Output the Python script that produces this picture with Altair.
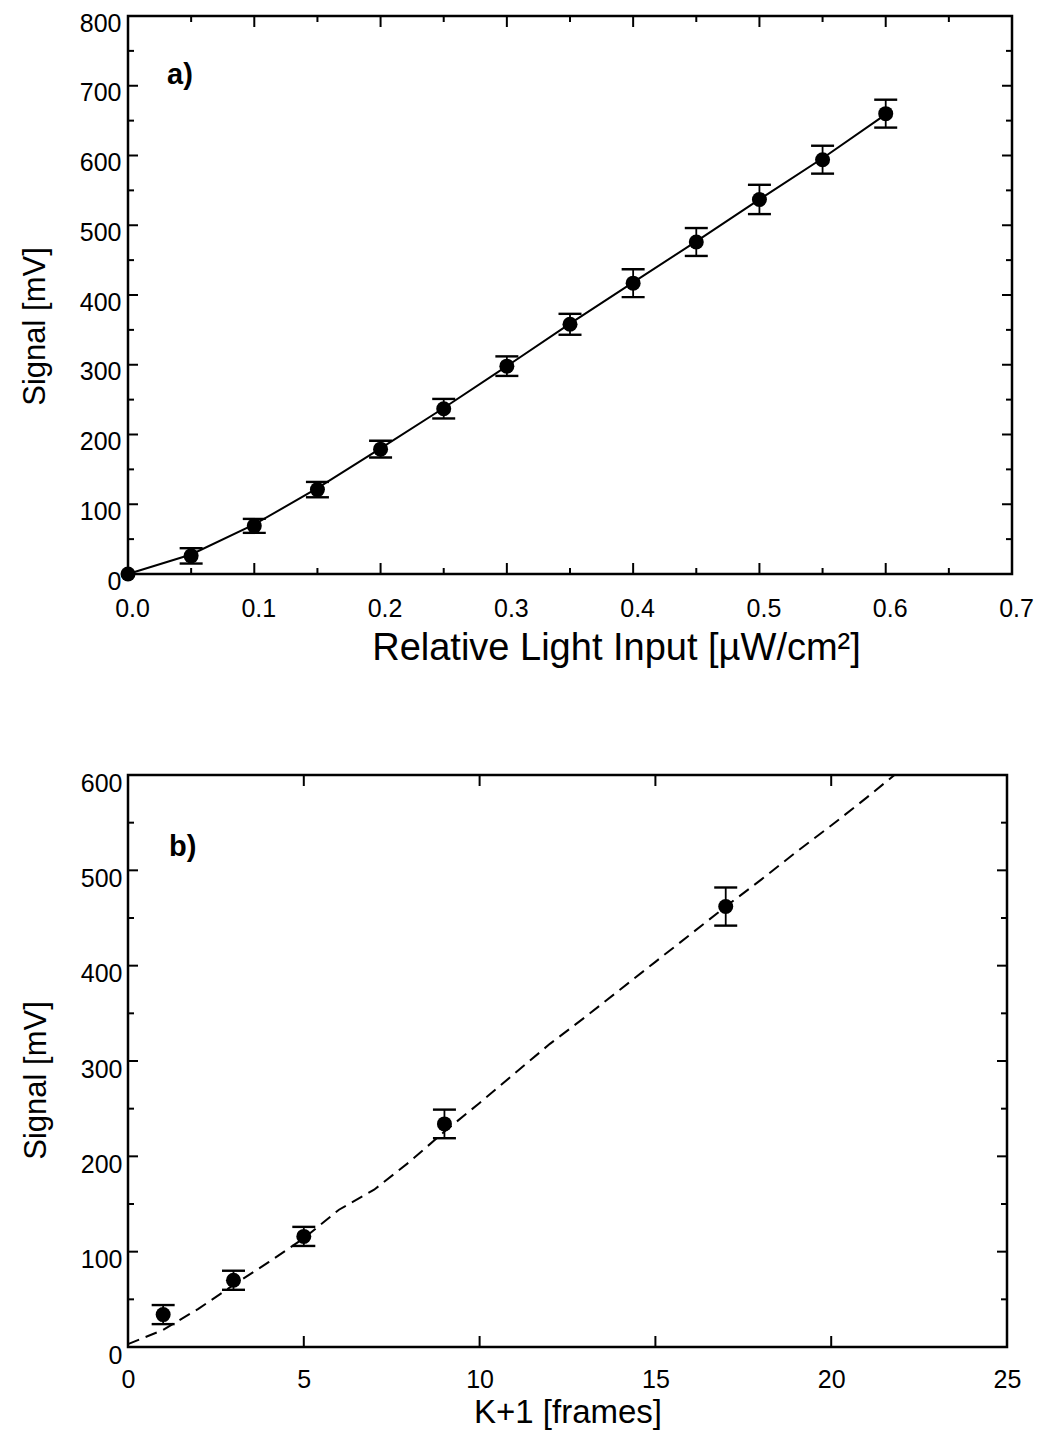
import altair as alt
import pandas as pd

# ---------------- Panel a data ----------------
a_x = [0.0, 0.05, 0.10, 0.15, 0.20, 0.25, 0.30, 0.35, 0.40, 0.45, 0.50, 0.55, 0.60]
a_y = [0, 26, 69, 121, 179, 237, 298, 358, 417, 476, 537, 594, 660]
a_err = [0, 11, 10, 11, 12, 14, 14, 15, 20, 20, 21, 20, 20]
a_fit = [0, 28, 71, 123, 180, 238, 298, 359, 418, 477, 537, 596, 659]

# ---------------- Panel b data ----------------
b_x = [1, 3, 5, 9, 17]
b_y = [34, 70, 116, 234, 462]
b_err = [10, 10, 10, 15, 20]
b_fit_x = [0, 1, 2, 3, 4, 5, 6, 7, 8, 9, 10, 11, 12, 13, 14, 15, 16, 17, 18, 19, 20, 21, 21.8]
b_fit_y = [3, 18, 40, 65, 89, 114, 144, 165, 194, 226, 256, 287, 318, 346, 375, 404, 433, 462, 490, 519, 547, 576, 600]

# ---------------- Tick values ----------------
a_xticks_major = [0.0, 0.1, 0.2, 0.3, 0.4, 0.5, 0.6, 0.7]
a_xticks_minor = [0.05, 0.15, 0.25, 0.35, 0.45, 0.55, 0.65]
a_yticks_major = [0, 100, 200, 300, 400, 500, 600, 700, 800]
a_yticks_minor = [50, 150, 250, 350, 450, 550, 650, 750]
b_xticks_major = [0, 5, 10, 15, 20, 25]
b_xticks_minor = []
b_yticks_major = [0, 100, 200, 300, 400, 500, 600]
b_yticks_minor = [50, 150, 250, 350, 450, 550]

FONT = "Liberation Sans"


def panel(px, py, perr, fx, fy, xdom, ydom, xmaj, xmin, ymaj, ymin, W, H,
          xtitle, ytitle, tag, tag_x, tag_y, xfmt, dash, xtitle_size,
          x_label_offset, y_label_offset, y_title_y, x_title_x,
          x_label_pad, x_title_pad, y_label_pad, y_title_pad):
    pts = pd.DataFrame({"x": px, "y": py, "err": perr})
    fit = pd.DataFrame({"x": fx, "y": fy})

    xscale = alt.Scale(domain=xdom, nice=False, zero=False)
    yscale = alt.Scale(domain=ydom, nice=False, zero=False)

    xaxis_kwargs = dict(values=xmaj, format=xfmt, ticks=False, tickSize=0, domain=False,
                        grid=False, labelFont=FONT, labelFontSize=25,
                        labelColor="black", labelPadding=x_label_pad,
                        labelOffset=x_label_offset, labelFlush=False,
                        title=xtitle, titleFont=FONT, titleFontSize=xtitle_size,
                        titleFontWeight="normal", titleColor="black",
                        titlePadding=x_title_pad)
    if x_title_x is not None:
        xaxis_kwargs["titleX"] = x_title_x
    xaxis = alt.Axis(**xaxis_kwargs)
    yaxis = alt.Axis(values=ymaj, format="d", ticks=False, tickSize=0, domain=False,
                     grid=False, labelFont=FONT, labelFontSize=25,
                     labelColor="black", labelPadding=y_label_pad,
                     labelOffset=y_label_offset, labelFlush=False,
                     title=ytitle, titleFont=FONT, titleFontSize=31,
                     titleFontWeight="normal", titleColor="black",
                     titlePadding=y_title_pad, titleY=y_title_y)

    def X(field):
        return alt.X(field, scale=xscale, axis=xaxis)

    def Y(field):
        return alt.Y(field, scale=yscale, axis=yaxis)

    base_pts = alt.Chart(pts)

    points = base_pts.mark_circle(size=225, color="black", opacity=1).encode(
        x=X("x:Q"), y=Y("y:Q"),
    )

    fit_line = alt.Chart(fit).mark_line(
        color="black", strokeWidth=2, **({"strokeDash": [12, 7]} if dash else {})
    ).encode(x=X("x:Q"), y=Y("y:Q"))

    err_base = base_pts.transform_filter("datum.err > 0").transform_calculate(
        lo="datum.y - datum.err", hi="datum.y + datum.err"
    )
    err_rule = err_base.mark_rule(color="black", strokeWidth=1.8).encode(
        x=X("x:Q"), y=Y("lo:Q"), y2="hi:Q",
    )
    caps = err_base.transform_fold(["lo", "hi"], as_=["k", "v"]).mark_tick(
        orient="horizontal", size=23, thickness=2.4, color="black", opacity=1
    ).encode(x=X("x:Q"), y=Y("v:Q"))

    layers = [fit_line, err_rule, caps, points]

    def xticks(vals, L):
        if not vals:
            return []
        d = pd.DataFrame({"x": vals})
        bot = alt.Chart(d).mark_rule(color="black", strokeWidth=2).encode(
            x=X("x:Q"), y=alt.value(H), y2=alt.value(H - L))
        top = alt.Chart(d).mark_rule(color="black", strokeWidth=2).encode(
            x=X("x:Q"), y=alt.value(0), y2=alt.value(L))
        return [bot, top]

    def yticks(vals, L):
        if not vals:
            return []
        d = pd.DataFrame({"y": vals})
        left = alt.Chart(d).mark_rule(color="black", strokeWidth=2).encode(
            y=Y("y:Q"), x=alt.value(0), x2=alt.value(L))
        right = alt.Chart(d).mark_rule(color="black", strokeWidth=2).encode(
            y=Y("y:Q"), x=alt.value(W - L), x2=alt.value(W))
        return [left, right]

    layers += xticks(xmaj, 11) + xticks(xmin, 6) + yticks(ymaj, 10) + yticks(ymin, 6)

    tag_df = pd.DataFrame({"t": [tag]})
    tag_text = alt.Chart(tag_df).mark_text(
        font=FONT, fontSize=29, fontWeight="bold", align="left",
        baseline="alphabetic", color="black"
    ).encode(text="t:N", x=alt.value(tag_x), y=alt.value(tag_y))
    layers.append(tag_text)

    return alt.layer(*layers).properties(width=W, height=H)


panel_a = panel(a_x, a_y, a_err, a_x, a_fit, [0, 0.7], [0, 800],
                a_xticks_major, a_xticks_minor, a_yticks_major, a_yticks_minor,
                884, 558, "Relative Light Input [µW/cm²]", "Signal [mV]",
                "a)", 39, 68, ".1f", False, 38,
                4, 7, 310, 488, 22, 8, 7, 28)

panel_b = panel(b_x, b_y, b_err, b_fit_x, b_fit_y, [0, 25], [0, 600],
                b_xticks_major, b_xticks_minor, b_yticks_major, b_yticks_minor,
                879, 572, "K+1 [frames]", "Signal [mV]",
                "b)", 41, 81, "d", True, 33,
                0, 8, 305, None, 20, 4, 6, 28)

chart = alt.vconcat(panel_a, panel_b, spacing=100).properties(
    padding={"left": 18, "top": 9, "right": 0, "bottom": 0},
    background="white",
).configure_view(stroke="black", strokeWidth=2.5).configure_concat(spacing=100)

chart.save("out.html", embed_options={"renderer": "svg", "actions": False})
